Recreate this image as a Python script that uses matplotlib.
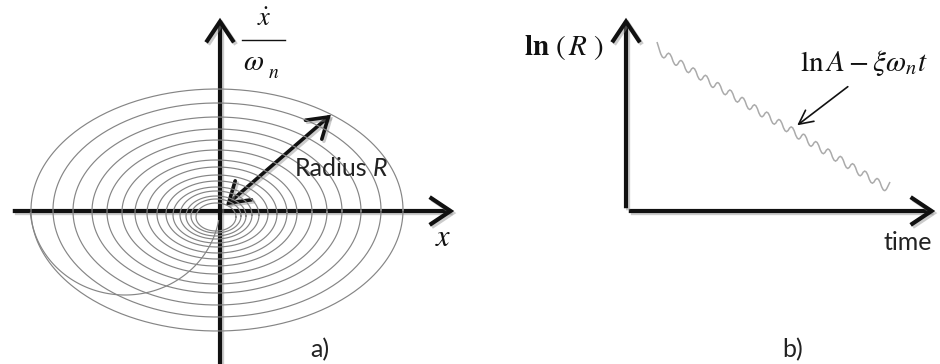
import matplotlib.pyplot as plt
import matplotlib.patheffects as pe
import numpy as np
from matplotlib.patches import FancyArrowPatch, PathPatch
from matplotlib.path import Path

plt.rcParams['mathtext.fontset'] = 'stix'

# a) phase plane: loops of the decaying spiral (semi-axes and centre offsets)
ring_a = [186, 164, 144, 125, 110, 95, 81, 70, 60, 51, 43, 36, 30, 25, 20]
ring_b = [121, 107, 94, 82, 72, 62, 53, 46, 39, 33, 28, 24, 20, 17, 14]
ring_cx = [-3, -3, -3, -3, -3, -3, -4, -3, -3, -3, -4, -4, -4, -4, -4]
ring_cy = [1, 1, 0, 0, -1, -1, -2, -2, -3, -3, -4, -4, -5, -5, -6]

# last part of the spiral running into the origin
tail_centre = (-95, 6)
tail_axes = (95, 90)
tail_span = (10, 175)  # degrees

radius_tip = (113, 98)

# b) ln(R) against time, ripple points of the decay line
wave_t = [31.0, 37.1, 43.3, 49.4, 55.5, 61.7, 67.8, 73.9, 80.1, 86.2,
          92.3, 98.5, 104.6, 110.7, 116.8, 123.0, 129.1, 135.2, 141.4, 147.5,
          153.6, 159.8, 165.9, 172.0, 178.2, 184.3, 190.4, 196.6, 202.7, 208.8,
          215.0, 221.1, 227.2, 233.4, 239.5, 245.6, 251.8, 257.9, 264.0]
wave_lnR = [169.0, 149.3, 161.6, 141.9, 154.3, 134.6, 146.9, 127.2, 139.5, 119.8,
            132.2, 112.5, 124.8, 105.1, 117.4, 97.7, 110.0, 90.4, 102.7, 83.0,
            95.3, 75.6, 87.9, 68.2, 80.6, 60.9, 73.2, 53.5, 65.8, 46.1,
            58.4, 38.8, 51.1, 31.4, 43.7, 24.0, 36.3, 16.6, 29.0]
pointer_from = (224, 126)
pointer_to = (169, 84)

ink = '#111111'
shadow = [pe.SimpleLineShadow(offset=(1.5, -1.5), shadow_color='0.55', alpha=0.45),
          pe.Normal()]


def axis_arrow(ax, start, end):
    arr = FancyArrowPatch(start, end, arrowstyle='->,head_length=0.75,head_width=0.5',
                          mutation_scale=20, lw=3.0, color=ink, clip_on=False,
                          joinstyle='miter', capstyle='butt')
    arr.set_path_effects(shadow)
    ax.add_patch(arr)


fig = plt.figure(figsize=(9.4, 3.64), dpi=100)

axA = fig.add_axes([0, 0, 0.5, 1])
axA.set_xlim(-220, 250)
axA.set_ylim(-153, 211)
axA.axis('off')

th = np.linspace(0, 2 * np.pi, 400)
for a, b, cx, cy in zip(ring_a, ring_b, ring_cx, ring_cy):
    axA.plot(cx + a * np.cos(th), cy + b * np.sin(th), color='#858585', lw=0.85)

ts = np.radians(np.linspace(tail_span[0], tail_span[1], 120))
axA.plot(tail_centre[0] + tail_axes[0] * np.cos(ts),
         tail_centre[1] - tail_axes[1] * np.sin(ts), color='#858585', lw=0.85)

axis_arrow(axA, (-210, 0), (237, 0))
axis_arrow(axA, (0, -160), (0, 196))

rad = FancyArrowPatch((4, 4), radius_tip, arrowstyle='<->,head_length=0.7,head_width=0.45',
                      mutation_scale=20, lw=2.6, color=ink, clip_on=False,
                      joinstyle='miter')
rad.set_path_effects(shadow)
axA.add_patch(rad)

t1 = axA.text(75, 43, 'Radius', family='Lato', fontsize=18, color='#222222',
              ha='left', va='center')
axA.annotate('R', xy=(1, 0), xycoords=t1, xytext=(4, 0), textcoords='offset points',
             family='Lato', style='italic', fontsize=18, color='#222222',
             ha='left', va='bottom')

axA.text(223, -26, r'$x$', fontsize=22, ha='center', va='center', color=ink)
axA.text(44, 192, r'$\dot{x}$', fontsize=19, ha='center', va='center', color=ink)
axA.plot([22, 65], [171, 171], color=ink, lw=1.0)
axA.text(34, 149, r'$\omega$', fontsize=21, ha='center', va='center', color=ink)
axA.text(54, 139, r'$n$', fontsize=14, ha='center', va='center', color=ink)
axA.text(100, -150, 'a)', family='Lato', fontsize=18, ha='center', va='bottom',
         color='#222222', clip_on=False)

axB = fig.add_axes([0.5, 0, 0.5, 1])
axB.set_xlim(-156, 314)
axB.set_ylim(-153, 211)
axB.axis('off')

pts = np.column_stack([wave_t, wave_lnR])
mids = (pts[:-1] + pts[1:]) / 2
verts = [pts[0], mids[0]]
codes = [Path.MOVETO, Path.LINETO]
for k in range(1, len(pts) - 1):
    verts += [pts[k], mids[k]]
    codes += [Path.CURVE3, Path.CURVE3]
verts.append(pts[-1])
codes.append(Path.LINETO)
axB.add_patch(PathPatch(Path(verts, codes), fill=False, edgecolor='#ababab', lw=1.1))

axis_arrow(axB, (0, 0), (312, 0))
axis_arrow(axB, (0, 0), (0, 196))

ptr = FancyArrowPatch(pointer_from, pointer_to,
                      arrowstyle='->,head_length=1.0,head_width=0.5',
                      mutation_scale=10, lw=1.2, color=ink, clip_on=False)
axB.add_patch(ptr)

axB.text(-62, 164, r'$\mathbf{ln}\ (\,R\ )$', fontsize=21, ha='center', va='center',
         color=ink)
axB.text(238, 148, r'$\ln A-\xi\omega_n t$', fontsize=21, ha='center', va='center',
         color=ink)
axB.text(282, -31, 'time', family='Lato', fontsize=18, ha='center', va='center',
         color='#222222', clip_on=False)
axB.text(167, -150, 'b)', family='Lato', fontsize=18, ha='center', va='bottom',
         color='#222222', clip_on=False)

fig.savefig('out.png', dpi=100)
